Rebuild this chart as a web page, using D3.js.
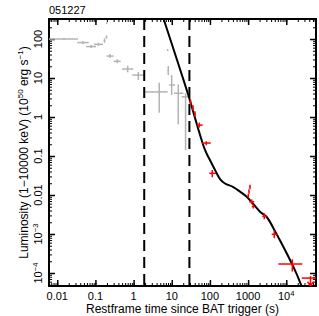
<!DOCTYPE html>
<html>
<head>
<meta charset="utf-8">
<script src="https://cdn.jsdelivr.net/npm/d3@7"></script>
<style>
  body { margin: 0; background: #fff; }
  text { font-family: "Liberation Sans", Arial, sans-serif; }
</style>
</head>
<body>
<script>
'use strict';

// BAT (grey) points: time, time range, luminosity, lum range
const batTime   = [0.015, 0.047, 0.077, 0.12, 0.173, 0.195, 0.197, 0.241, 0.372, 0.70, 1.33, 4.7, 7.8, 8.1, 9.96, 14.8, 23];
const batTimeLo = [0.004, 0.0335, 0.057, 0.092, 0.165, 0.188, 0.19, 0.194, 0.30, 0.497, 0.925, 1.8, 7.6, 7.7, 8.6, 11.4, 18.2];
const batTimeHi = [0.035, 0.0667, 0.104, 0.158, 0.182, 0.202, 0.204, 0.30, 0.46, 0.98, 1.87, 7.8, 8.0, 8.5, 12.2, 20.0, 27.1];
const batLum    = [100, 81, 64, 73, 91, 112, 253, 36.6, 26.8, 17.0, 11.9, 4.4, 52, 15.6, 6.6, 4.06, 3.3];
const batLumLo  = [94, 74, 58.5, 67, 80, 102, 240, 32.5, 23.8, 14.0, 8.9, 1.29, 49, 11.9, 3.66, 0.65, 0.14];
const batLumHi  = [106, 89, 70, 80, 104, 123, 266, 41.3, 30.2, 20.7, 14.5, 7.6, 55, 20.3, 11.9, 6.9, 4.06];

// XRT (red) points
const xrtTime   = [31, 36, 40.6, 52.6, 80, 115, 1122, 1054, 1011, 1242, 1368, 2650, 4850, 14400];
const xrtTimeLo = [29.5, 34.5, 39, 45, 62, 96, 1100, 1035, 990, 1070, 1250, 2355, 4150, 6200];
const xrtTimeHi = [32.6, 37.5, 42.3, 64.6, 105, 144, 1145, 1075, 1030, 1440, 1500, 3070, 5960, 26300];
const xrtLum    = [2.41, 1.70, 1.19, 0.62, 0.215, 0.036, 0.016, 0.0123, 0.0094, 0.0067, 0.00507, 0.00284, 9.8e-4, 1.7e-4];
const xrtLumLo  = [2.0, 1.45, 1.0, 0.535, 0.19, 0.0284, 0.014, 0.0108, 0.0083, 0.0058, 0.0045, 0.0024, 7.8e-4, 1.09e-4];
const xrtLumHi  = [2.8, 2.0, 1.4, 0.72, 0.24, 0.044, 0.0182, 0.014, 0.0107, 0.0077, 0.0057, 0.0034, 1.23e-3, 2.24e-4];

// upper limit
const limitTime = [43000];
const limitTimeLo = [25400];
const limitTimeHi = [70000];
const limitLum = [7.4e-5];
const limitArrowTo = [4.7e-5];

// model curve
const modelTime = [6.25, 15.7, 27.1, 74.3, 100, 136, 184, 248, 409, 614, 918, 1370, 2050, 3070, 5380, 9270, 15300, 22900, 27400];
const modelLum  = [307, 19.5, 3.66, 0.143, 0.0789, 0.0438, 0.0257, 0.0197, 0.0160, 0.0122, 0.00904, 0.00587, 0.00373, 0.00273, 0.00106, 3.89e-4, 1.45e-4, 5.87e-5, 3.66e-5];

const dashedTimes = [1.9, 29];

const xTicks = [0.01, 0.1, 1, 10, 100, 1000, 10000];
const xTickLabels = ["0.01", "0.1", "1", "10", "100", "1000", "10^4"];
const yTicks = [1e-4, 1e-3, 0.01, 0.1, 1, 10, 100];
const yTickLabels = ["10^−4", "10^−3", "0.01", "0.1", "1", "10", "100"];

let svgContainer = "";
const W = 319, H = 316;
const pLeft = 49, pRight = 316, pTop = 19, pBottom = 286;

window.onload = function () {
  svgContainer = d3.select('body')
    .append('svg')
    .attr('width', W)
    .attr('height', H);

  let map = drawAxes();
  plotData(map);
  makeLabels();
};

function minorTicks(domain) {
  let out = [];
  let lo = Math.floor(Math.log10(domain[0]));
  let hi = Math.ceil(Math.log10(domain[1]));
  for (let e = lo; e <= hi; e++) {
    for (let k = 1; k <= 9; k++) {
      let v = k * Math.pow(10, e);
      if (v >= domain[0] && v <= domain[1]) out.push(v);
    }
  }
  return out;
}

// write "10^4" style labels with a superscript
function writeLabel(sel, label, size) {
  let parts = label.split('^');
  sel.text(parts[0]);
  if (parts.length > 1) {
    sel.append('tspan')
      .attr('dy', -size * 0.4)
      .style('font-size', (size * 0.7) + 'px')
      .text(parts[1]);
  }
}

function drawAxes() {
  let xScale = d3.scaleLog().domain([0.00608, 60100]).range([pLeft, pRight]);
  let yScale = d3.scaleLog().domain([4.64e-5, 326]).range([pBottom, pTop]);

  let xMinor = minorTicks(xScale.domain());
  let yMinor = minorTicks(yScale.domain());

  let axes = [
    { ax: d3.axisBottom, s: xScale, t: 'translate(0,' + pBottom + ')', minor: xMinor, major: xTicks },
    { ax: d3.axisTop, s: xScale, t: 'translate(0,' + pTop + ')', minor: xMinor, major: xTicks },
    { ax: d3.axisLeft, s: yScale, t: 'translate(' + pLeft + ',0)', minor: yMinor, major: yTicks },
    { ax: d3.axisRight, s: yScale, t: 'translate(' + pRight + ',0)', minor: yMinor, major: yTicks }
  ];

  axes.forEach(function (a) {
    let gMinor = svgContainer.append('g').attr('transform', a.t)
      .call(a.ax(a.s).tickValues(a.minor).tickSize(-3).tickSizeOuter(0).tickFormat(''));
    gMinor.select('.domain').remove();
    gMinor.selectAll('line').attr('stroke-width', 1);

    let gMajor = svgContainer.append('g').attr('transform', a.t)
      .call(a.ax(a.s).tickValues(a.major).tickSize(-6).tickSizeOuter(0).tickFormat(''));
    gMajor.select('.domain').remove();
    gMajor.selectAll('line').attr('stroke-width', 1.5);
  });

  svgContainer.append('rect')
    .attr('x', pLeft).attr('y', pTop)
    .attr('width', pRight - pLeft).attr('height', pBottom - pTop)
    .attr('fill', 'none').attr('stroke', '#000').attr('stroke-width', 2);

  // x tick labels
  xTicks.forEach(function (v, i) {
    let t = svgContainer.append('text')
      .attr('x', xScale(v)).attr('y', 300)
      .attr('text-anchor', 'middle')
      .style('font-size', '11px');
    writeLabel(t, xTickLabels[i], 11);
  });

  // y tick labels, rotated
  yTicks.forEach(function (v, i) {
    let t = svgContainer.append('text')
      .attr('transform', 'translate(42,' + yScale(v) + ')rotate(-90)')
      .attr('text-anchor', 'middle')
      .style('font-size', '11px');
    writeLabel(t, yTickLabels[i], 11);
  });

  return { x: xScale, y: yScale };
}

function plotData(map) {
  let x = map.x, y = map.y;

  svgContainer.append('clipPath').attr('id', 'plotclip')
    .append('rect')
    .attr('x', pLeft).attr('y', pTop)
    .attr('width', pRight - pLeft).attr('height', pBottom - pTop);

  let g = svgContainer.append('g').attr('clip-path', 'url(#plotclip)');

  // grey BAT points
  batTime.forEach(function (t, i) {
    g.append('line')
      .attr('x1', x(batTimeLo[i])).attr('x2', x(batTimeHi[i]))
      .attr('y1', y(batLum[i])).attr('y2', y(batLum[i]))
      .attr('stroke', '#b3b3b3').attr('stroke-width', 1.5);
    g.append('line')
      .attr('x1', x(t)).attr('x2', x(t))
      .attr('y1', y(batLumLo[i])).attr('y2', y(batLumHi[i]))
      .attr('stroke', '#b3b3b3').attr('stroke-width', 1.5);
  });

  // dashed lines
  dashedTimes.forEach(function (t) {
    g.append('line')
      .attr('x1', x(t)).attr('x2', x(t))
      .attr('y1', pTop).attr('y2', pBottom)
      .attr('stroke', '#000').attr('stroke-width', 2)
      .attr('stroke-dasharray', '11,6');
  });

  // model
  let line = d3.line()
    .x(function (d) { return x(d[0]); })
    .y(function (d) { return y(d[1]); })
    .curve(d3.curveCatmullRom);
  g.append('path')
    .datum(modelTime.map(function (t, i) { return [t, modelLum[i]]; }))
    .attr('d', line)
    .attr('fill', 'none').attr('stroke', '#000').attr('stroke-width', 2);

  // red XRT points
  xrtTime.forEach(function (t, i) {
    g.append('line')
      .attr('x1', x(xrtTimeLo[i])).attr('x2', x(xrtTimeHi[i]))
      .attr('y1', y(xrtLum[i])).attr('y2', y(xrtLum[i]))
      .attr('stroke', '#ff0000').attr('stroke-width', 1.5);
    g.append('line')
      .attr('x1', x(t)).attr('x2', x(t))
      .attr('y1', y(xrtLumLo[i])).attr('y2', y(xrtLumHi[i]))
      .attr('stroke', '#ff0000').attr('stroke-width', 1.5);
  });

  // upper limit with arrow
  limitTime.forEach(function (t, i) {
    let cx = x(t), cy = y(limitLum[i]), ty = y(limitArrowTo[i]);
    g.append('line')
      .attr('x1', x(limitTimeLo[i])).attr('x2', x(limitTimeHi[i]))
      .attr('y1', cy).attr('y2', cy)
      .attr('stroke', '#ff0000').attr('stroke-width', 1.5);
    g.append('line')
      .attr('x1', cx).attr('x2', cx)
      .attr('y1', cy - 2).attr('y2', ty)
      .attr('stroke', '#ff0000').attr('stroke-width', 1.5);
    g.append('path')
      .attr('d', 'M' + (cx - 3) + ',' + (ty - 4) + 'L' + cx + ',' + ty + 'L' + (cx + 3) + ',' + (ty - 4))
      .attr('fill', 'none').attr('stroke', '#ff0000').attr('stroke-width', 1.5);
  });
}

function makeLabels() {
  svgContainer.append('text')
    .attr('x', 49).attr('y', 14)
    .style('font-size', '11px')
    .text('051227');

  svgContainer.append('text')
    .attr('x', (pLeft + pRight) / 2).attr('y', 313)
    .attr('text-anchor', 'middle')
    .style('font-size', '12px')
    .text('Restframe time since BAT trigger (s)');

  let yt = svgContainer.append('text')
    .attr('transform', 'translate(28,' + (pTop + pBottom) / 2 + ')rotate(-90)')
    .attr('text-anchor', 'middle')
    .style('font-size', '12px');
  yt.append('tspan').text('Luminosity (1\u221210000 keV) (10');
  yt.append('tspan').attr('dy', -5).style('font-size', '8px').text('50');
  yt.append('tspan').attr('dy', 5).text(' erg s');
  yt.append('tspan').attr('dy', -5).style('font-size', '8px').text('\u22121');
  yt.append('tspan').attr('dy', 5).text(')');
}
</script>
</body>
</html>
